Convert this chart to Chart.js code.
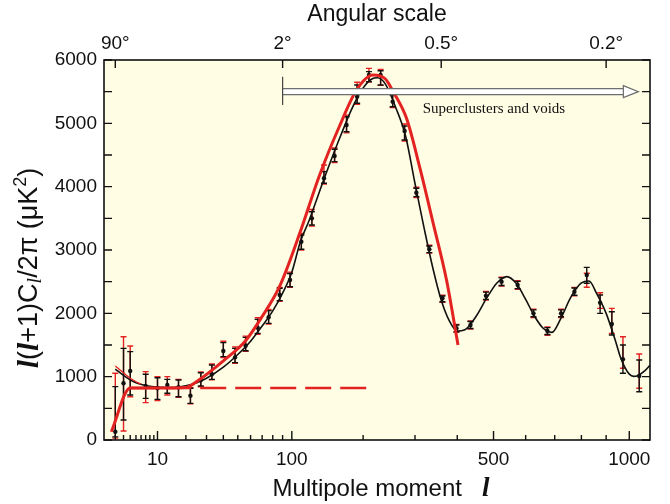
<!DOCTYPE html>
<html>
<head>
<meta charset="utf-8">
<script src="https://cdn.jsdelivr.net/npm/chart.js@4.4.0/dist/chart.umd.min.js"></script>
<style>
  body { margin: 0; background: #fff; }
</style>
</head>
<body>
<canvas id="cmb_chart" width="670" height="504"></canvas>
<script>
// binned power spectrum: multipole, band power, black errors, red errors
var ell = [2, 3, 4, 7, 10, 13, 17, 22, 27, 33, 40, 48, 56, 66, 76, 87, 98, 111, 124, 140, 155, 173, 190, 210, 231, 254, 278, 303, 332, 363, 398, 435, 478, 524, 574, 626, 674, 723, 773, 821, 875, 924, 972, 1045];
var bandPower = [131, 895, 1089, 853, 816, 868, 832, 700, 947, 1037, 1405, 1305, 1489, 1774, 1937, 2290, 2526, 3131, 3500, 4132, 4484, 4974, 5421, 5763, 5763, 5342, 4879, 3905, 3011, 2237, 1764, 1816, 2279, 2500, 2447, 2000, 1721, 2000, 2342, 2605, 2168, 1832, 1274, 1011];
var blackLo = [50, 316, 711, 658, 642, 737, 684, 579, 853, 958, 1316, 1221, 1410, 1684, 1842, 2200, 2420, 3011, 3395, 4053, 4395, 4868, 5316, 5658, 5605, 5263, 4737, 3842, 2958, 2184, 1710, 1760, 2220, 2440, 2390, 1945, 1665, 1945, 2285, 2474, 2000, 1658, 1053, 763];
var blackHi = [842, 1447, 1395, 1037, 984, 958, 947, 816, 1063, 1184, 1537, 1447, 1621, 1905, 2042, 2395, 2630, 3237, 3605, 4237, 4590, 5105, 5605, 5816, 5831, 5447, 4958, 3974, 3063, 2274, 1815, 1870, 2335, 2560, 2505, 2055, 1775, 2055, 2400, 2726, 2290, 2026, 1500, 1263];
var redLo = [30, 142, 684, 590, 621, 711, 674, 570, 840, 950, 1300, 1210, 1400, 1670, 1830, 2190, 2410, 3000, 3380, 4040, 4380, 4850, 5300, 5650, 5600, 5250, 4720, 3830, 2950, 2175, 1700, 1750, 2210, 2430, 2380, 1935, 1655, 1935, 2275, 2411, 2079, 1684, 1132, 816];
var redHi = [1053, 1631, 1484, 1079, 1000, 1000, 958, 826, 1075, 1200, 1560, 1470, 1640, 1930, 2060, 2410, 2650, 3260, 3640, 4342, 4610, 5130, 5648, 5868, 5850, 5460, 4990, 3990, 3075, 2285, 1825, 1880, 2345, 2570, 2515, 2065, 1785, 2065, 2410, 2632, 2326, 2079, 1631, 1358];

// best-fit model curve
var modelL = [2, 3, 4, 5, 7, 10, 15, 20, 25, 30, 40, 50, 60, 70, 80, 90, 100, 110, 120, 130, 140, 150, 160, 170, 180, 190, 200, 215, 225, 240, 260, 280, 300, 320, 340, 360, 380, 400, 420, 450, 480, 510, 540, 570, 600, 630, 660, 690, 720, 760, 800, 830, 860, 900, 940, 960, 980, 1000, 1020, 1040, 1070, 1095];
var modelCl = [1120, 1020, 950, 905, 860, 835, 830, 855, 905, 975, 1150, 1350, 1560, 1800, 2040, 2320, 2650, 3140, 3450, 3790, 4120, 4420, 4700, 4960, 5200, 5400, 5560, 5700, 5720, 5620, 5250, 4800, 4050, 3350, 2720, 2210, 1880, 1720, 1740, 1950, 2240, 2480, 2580, 2470, 2220, 1950, 1760, 1700, 1900, 2260, 2480, 2510, 2320, 2000, 1560, 1320, 1150, 1040, 1005, 1020, 1090, 1180];

// red curve (thick), its thin companion at low l, and the flat plateau
var redCurveL = [1.6, 4, 10, 20, 26, 40, 56, 70, 87, 109, 134, 162, 189, 217, 240, 255, 282, 310, 341, 373, 402];
var redCurveCl = [130, 820, 820, 830, 947, 1250, 1568, 1950, 2430, 3260, 4180, 4950, 5526, 5763, 5700, 5500, 5079, 4316, 3421, 2526, 1500];
var redThinL = [2, 3, 4, 5, 6];
var redThinCl = [1170, 1060, 975, 920, 880];
var plateauL = [4, 210];
var plateauCl = [820, 820];

// axis ticks
var lTicks = [10, 100, 500, 1000];
var lMinor = [2, 3, 4, 5, 6, 7, 8, 9, 20, 30, 40, 50, 60, 70, 80, 90, 200, 300, 400, 600, 700, 800, 900];
var angleDeg = [90, 2, 0.5, 0.2];
var angleLabels = ['90\u00b0', '2\u00b0', '0.5\u00b0', '0.2\u00b0'];
var yTicks = [0, 1000, 2000, 3000, 4000, 5000, 6000];
var yMinor = [500, 1500, 2500, 3500, 4500, 5500];

// annotation
var arrowFromL = 90, arrowToL = 1041, arrowCl = 5500;
var barTopCl = 5735, barBottomCl = 5290;
var noteText = 'Superclusters and voids', noteL = 317, noteCl = 5227;

var angleL = angleDeg.map(function (d) { return 180 / d; });
var EXP = 0.4;
var SANS = '"Liberation Sans", Arial, Helvetica, sans-serif';
var SERIF = '"Liberation Serif", "Times New Roman", serif';
var RED = '#e32222';
var INK = '#111111';

function pts(xs, ys) {
  return xs.map(function (x, i) { return { x: x, y: ys[i] }; });
}

// multipole axis: pixel position goes as l^0.4
class PowerScale extends Chart.Scale {
  static id = 'power';
  static defaults = {};
  determineDataLimits() {
    this.min = this.options.min;
    this.max = this.options.max;
  }
  buildTicks() {
    var vals = this.id === 'x2' ? angleL : lTicks;
    return vals.map(function (v) { return { value: v }; });
  }
  configure() {
    super.configure();
    this._p0 = Math.pow(this.min, EXP);
    this._pr = Math.pow(this.max, EXP) - this._p0;
  }
  getLabelForValue(v) { return String(v); }
  getPixelForValue(v) {
    return this.getPixelForDecimal((Math.pow(v, EXP) - this._p0) / this._pr);
  }
  getValueForPixel(p) {
    return Math.pow(this.getDecimalForPixel(p) * this._pr + this._p0, 1 / EXP);
  }
}
Chart.register(PowerScale);

function drawParts(ctx, parts, x, y) {
  var w = 0;
  parts.forEach(function (p) { ctx.font = p.font; w += ctx.measureText(p.text).width; });
  var cx = x - w / 2;
  parts.forEach(function (p) {
    ctx.font = p.font;
    ctx.fillText(p.text, cx, y + (p.dy || 0));
    cx += ctx.measureText(p.text).width;
  });
}

var framePlugin = {
  id: 'frame',
  beforeDraw: function (chart) {
    var a = chart.chartArea, ctx = chart.ctx;
    ctx.save();
    ctx.fillStyle = '#fffde3';
    ctx.fillRect(a.left, a.top, a.right - a.left, a.bottom - a.top);
    ctx.restore();
  },
  beforeDatasetsDraw: function (chart) {
    var ctx = chart.ctx, sx = chart.scales.x, sy = chart.scales.y;
    ctx.save();
    function bar(l, lo, hi, color) {
      var x = sx.getPixelForValue(l), y0 = sy.getPixelForValue(lo), y1 = sy.getPixelForValue(hi);
      ctx.strokeStyle = color;
      ctx.lineWidth = 1.4;
      ctx.beginPath();
      ctx.moveTo(x, y0); ctx.lineTo(x, y1);
      ctx.moveTo(x - 3, y0); ctx.lineTo(x + 3, y0);
      ctx.moveTo(x - 3, y1); ctx.lineTo(x + 3, y1);
      ctx.stroke();
    }
    ell.forEach(function (l, i) { bar(l, redLo[i], redHi[i], RED); });
    ell.forEach(function (l, i) { bar(l, blackLo[i], blackHi[i], INK); });
    ctx.restore();
  },
  afterDraw: function (chart) {
    var ctx = chart.ctx, a = chart.chartArea, sx = chart.scales.x, sy = chart.scales.y;
    ctx.save();

    // superclusters arrow
    var xa = sx.getPixelForValue(arrowFromL), xb = sx.getPixelForValue(arrowToL);
    var ya = sy.getPixelForValue(arrowCl);
    var head = 15;
    ctx.fillStyle = '#ffffff';
    ctx.fillRect(xa, ya - 3, xb - head - xa, 6);
    ctx.strokeStyle = '#6e6e6e';
    ctx.lineWidth = 1.2;
    ctx.beginPath();
    ctx.moveTo(xa, ya - 3); ctx.lineTo(xb - head, ya - 3);
    ctx.moveTo(xa, ya + 3); ctx.lineTo(xb - head, ya + 3);
    ctx.stroke();
    ctx.beginPath();
    ctx.moveTo(xb - head, ya - 6); ctx.lineTo(xb, ya); ctx.lineTo(xb - head, ya + 6); ctx.closePath();
    ctx.fill(); ctx.stroke();
    ctx.strokeStyle = '#444';
    ctx.beginPath();
    ctx.moveTo(xa, sy.getPixelForValue(barTopCl)); ctx.lineTo(xa, sy.getPixelForValue(barBottomCl));
    ctx.stroke();
    ctx.fillStyle = INK;
    ctx.font = '15px ' + SERIF;
    ctx.textBaseline = 'middle';
    ctx.textAlign = 'left';
    ctx.fillText(noteText, sx.getPixelForValue(noteL), sy.getPixelForValue(noteCl));

    // frame and inward ticks
    ctx.strokeStyle = INK;
    ctx.lineWidth = 1.6;
    ctx.strokeRect(a.left, a.top, a.right - a.left, a.bottom - a.top);
    ctx.lineWidth = 1.4;
    ctx.beginPath();
    yTicks.concat(yMinor).forEach(function (v) {
      var y = sy.getPixelForValue(v);
      ctx.moveTo(a.left, y); ctx.lineTo(a.left + 8, y);
      ctx.moveTo(a.right, y); ctx.lineTo(a.right - 8, y);
    });
    lTicks.forEach(function (v) {
      var x = sx.getPixelForValue(v);
      ctx.moveTo(x, a.bottom); ctx.lineTo(x, a.bottom - 9);
    });
    lMinor.forEach(function (v) {
      var x = sx.getPixelForValue(v);
      ctx.moveTo(x, a.bottom); ctx.lineTo(x, a.bottom - 5);
    });
    angleL.forEach(function (v) {
      var x = sx.getPixelForValue(v);
      ctx.moveTo(x, a.top); ctx.lineTo(x, a.top + 8);
    });
    ctx.stroke();

    // axis titles
    var mid = (a.left + a.right) / 2;
    ctx.fillStyle = INK;
    ctx.textAlign = 'left';
    ctx.textBaseline = 'middle';
    drawParts(ctx, [{ text: 'Angular scale', font: '23px ' + SANS }], mid, 15);
    drawParts(ctx, [
      { text: 'Multipole moment   ', font: '24px ' + SANS },
      { text: 'l', font: 'italic bold 27px ' + SERIF }
    ], mid + 4, 489);

    ctx.translate(30, 268);
    ctx.rotate(-Math.PI / 2);
    var sans = '27px ' + SANS, lf = 'italic bold 30px ' + SERIF;
    drawParts(ctx, [
      { text: 'l', font: lf },
      { text: '(', font: sans },
      { text: 'l', font: lf },
      { text: '+1)C', font: sans },
      { text: 'l', font: 'italic 20px ' + SERIF, dy: 6 },
      { text: '/2\u03c0 (\u03bcK', font: sans },
      { text: '2', font: '18px ' + SANS, dy: -9 },
      { text: ')', font: sans }
    ], 0, 0);
    ctx.restore();
  }
};

Chart.defaults.font.family = SANS;
Chart.defaults.color = INK;

var ctxCmb = document.getElementById('cmb_chart').getContext('2d');

var cmb_chart = new Chart(ctxCmb, {
  type: 'scatter',
  data: {
    datasets: [
      {
        label: 'red model',
        data: pts(redCurveL, redCurveCl),
        showLine: true,
        borderColor: RED,
        borderWidth: 3,
        pointRadius: 0,
        cubicInterpolationMode: 'monotone'
      },
      {
        label: 'red thin',
        data: pts(redThinL, redThinCl),
        showLine: true,
        borderColor: RED,
        borderWidth: 1.3,
        pointRadius: 0,
        cubicInterpolationMode: 'monotone'
      },
      {
        label: 'plateau',
        data: pts(plateauL, plateauCl),
        showLine: true,
        borderColor: RED,
        borderWidth: 2.5,
        borderDash: [26, 9],
        pointRadius: 0
      },
      {
        label: 'measurements',
        data: pts(ell, bandPower),
        backgroundColor: INK,
        borderColor: INK,
        pointRadius: 2.2,
        borderWidth: 0
      },
      {
        label: 'best fit',
        data: pts(modelL, modelCl),
        showLine: true,
        borderColor: INK,
        borderWidth: 1.6,
        pointRadius: 0,
        cubicInterpolationMode: 'monotone'
      }
    ]
  },
  options: {
    responsive: false,
    animation: false,
    layout: { padding: { left: 0, right: 20, top: 0, bottom: 0 } },
    plugins: { legend: { display: false }, tooltip: { enabled: false } },
    scales: {
      x: {
        type: 'power',
        position: 'bottom',
        min: 1,
        max: 1095,
        afterFit: function (s) { s.height = 64; },
        grid: { display: false, drawTicks: false },
        border: { display: false },
        ticks: { font: { size: 19 }, padding: 8, autoSkip: false, maxRotation: 0,
          callback: function (v) { return String(v); } }
      },
      x2: {
        type: 'power',
        position: 'top',
        min: 1,
        max: 1095,
        afterFit: function (s) { s.height = 60; },
        grid: { display: false, drawTicks: false },
        border: { display: false },
        ticks: { font: { size: 19 }, padding: 5, autoSkip: false, maxRotation: 0,
          callback: function (v, i) { return angleLabels[i]; } }
      },
      y: {
        type: 'linear',
        min: 0,
        max: 6000,
        afterFit: function (s) { s.width = 104; },
        afterBuildTicks: function (s) { s.ticks = yTicks.map(function (v) { return { value: v }; }); },
        grid: { display: false, drawTicks: false },
        border: { display: false },
        ticks: { font: { size: 19 }, padding: 7, callback: function (v) { return String(v); } }
      }
    }
  },
  plugins: [framePlugin]
});
</script>
</body>
</html>
